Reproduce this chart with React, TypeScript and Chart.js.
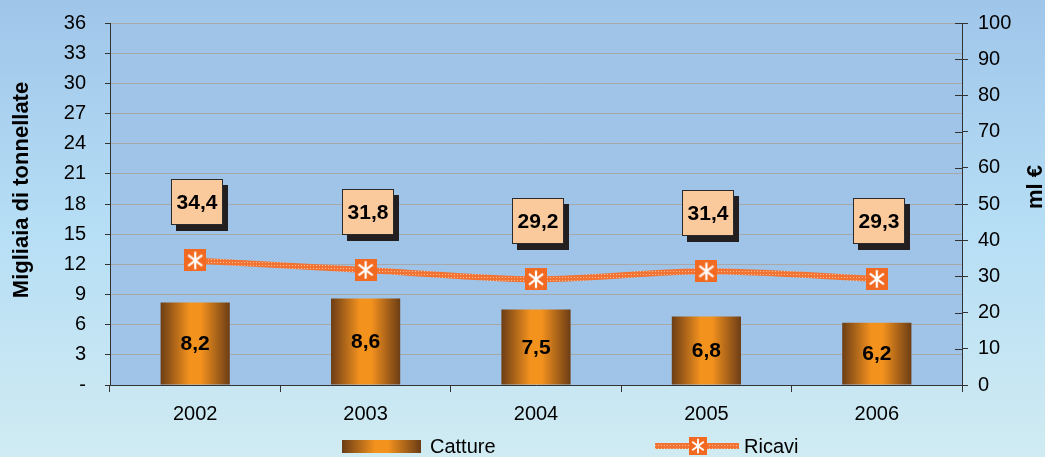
import { useEffect, useRef } from 'react';
import { Chart, registerables } from 'chart.js';

Chart.register(...registerables);

const categories = ['2002', '2003', '2004', '2005', '2006'];
const catture = [8.2, 8.6, 7.5, 6.8, 6.2];
const ricavi = [34.4, 31.8, 29.2, 31.4, 29.3];
const leftMax = 36;
const leftStep = 3;
const rightMax = 100;
const rightStep = 10;
const leftTitle = 'Migliaia di tonnellate';
const rightTitle = 'ml €';
const legendLabels = ['Catture', 'Ricavi'];

const FONT = '"Liberation Sans", Arial, sans-serif';
const ORANGE = '#f26a21';

const fmt = (v: number) => v.toFixed(1).replace('.', ',');

function drawMarker(ctx: CanvasRenderingContext2D, x: number, y: number, s: number) {
  ctx.save();
  ctx.fillStyle = ORANGE;
  ctx.fillRect(x - s / 2, y - s / 2, s, s);
  ctx.strokeStyle = '#ffffff';
  ctx.lineWidth = Math.max(1.5, s / 10);
  ctx.lineCap = 'butt';
  const r = s * 0.4;
  ctx.beginPath();
  ctx.moveTo(x, y - r);
  ctx.lineTo(x, y + r);
  const a = Math.PI / 3.4;
  ctx.moveTo(x - r * Math.sin(a), y - r * Math.cos(a));
  ctx.lineTo(x + r * Math.sin(a), y + r * Math.cos(a));
  ctx.moveTo(x + r * Math.sin(a), y - r * Math.cos(a));
  ctx.lineTo(x - r * Math.sin(a), y + r * Math.cos(a));
  ctx.stroke();
  ctx.restore();
}

function barGradient(ctx: CanvasRenderingContext2D, x0: number, x1: number) {
  const g = ctx.createLinearGradient(x0, 0, x1, 0);
  g.addColorStop(0, '#6a3c15');
  g.addColorStop(0.42, '#f4921e');
  g.addColorStop(0.58, '#f4921e');
  g.addColorStop(1, '#6a3c15');
  return g;
}

export default function App() {
  const ref = useRef<HTMLCanvasElement>(null);

  useEffect(() => {
    document.body.style.margin = '0';
    const canvas = ref.current!;
    const ctx = canvas.getContext('2d')!;

    const markerCanvas = document.createElement('canvas');
    markerCanvas.width = 22;
    markerCanvas.height = 22;
    drawMarker(markerCanvas.getContext('2d')!, 11, 11, 22);

    const patCanvas = document.createElement('canvas');
    patCanvas.width = 3;
    patCanvas.height = 3;
    const pc = patCanvas.getContext('2d')!;
    pc.fillStyle = '#f37332';
    pc.fillRect(0, 0, 3, 3);
    pc.fillStyle = '#fbbd98';
    pc.fillRect(1, 1, 1, 1);
    const linePattern = ctx.createPattern(patCanvas, 'repeat')!;

    const decorPlugin = {
      id: 'decor',
      beforeDraw(chart: any) {
        const c = chart.ctx as CanvasRenderingContext2D;
        const { width, height, chartArea: a } = chart;
        c.save();
        const g = c.createLinearGradient(0, 0, 0, height);
        g.addColorStop(0, '#9fc5e9');
        g.addColorStop(0.5, '#b6def5');
        g.addColorStop(1, '#d0ebf2');
        c.fillStyle = g;
        c.fillRect(0, 0, width, height);
        c.fillStyle = '#9fc4e8';
        c.fillRect(a.left, a.top, a.right - a.left, a.bottom - a.top);
        c.restore();
      },
      afterDatasetsDraw(chart: any) {
        const c = chart.ctx as CanvasRenderingContext2D;
        c.save();
        c.font = `bold 21px ${FONT}`;
        c.textAlign = 'center';
        c.textBaseline = 'middle';
        c.fillStyle = '#000';
        const barMeta = chart.getDatasetMeta(0);
        barMeta.data.forEach((el: any, i: number) => {
          const p = el.getProps(['x', 'y', 'base'], true);
          c.fillText(fmt(catture[i]), p.x, (p.y + p.base) / 2 + 1);
        });
        const lineMeta = chart.getDatasetMeta(1);
        lineMeta.data.forEach((el: any, i: number) => {
          const p = el.getProps(['x', 'y'], true);
          const w = 52;
          const h = 46;
          const bx = Math.round(p.x - w / 2 + 2);
          const by = Math.round(p.y - 58 - h / 2);
          c.fillStyle = '#231f20';
          c.fillRect(bx + 5, by + 6, w, h);
          c.fillStyle = '#fbca9c';
          c.fillRect(bx, by, w, h);
          c.strokeStyle = '#2a2a2a';
          c.lineWidth = 1;
          c.strokeRect(bx + 0.5, by + 0.5, w - 1, h - 1);
          c.fillStyle = '#000';
          c.fillText(fmt(ricavi[i]), bx + w / 2, by + h / 2 + 1);
        });
        c.restore();
      },
      afterDraw(chart: any) {
        const c = chart.ctx as CanvasRenderingContext2D;
        const a = chart.chartArea;
        c.save();
        const y1 = chart.scales.y1;
        c.strokeStyle = '#333';
        c.lineWidth = 1;
        c.beginPath();
        y1.ticks.forEach((t: any) => {
          const yy = Math.round(y1.getPixelForValue(t.value)) + 0.5;
          c.moveTo(a.right - 7, yy);
          c.lineTo(a.right, yy);
        });
        c.stroke();

        c.fillStyle = '#000';
        c.font = `bold 22px ${FONT}`;
        c.textAlign = 'center';
        c.textBaseline = 'middle';
        c.save();
        c.translate(22, 190);
        c.rotate(-Math.PI / 2);
        c.fillText(leftTitle, 0, 0);
        c.restore();
        c.save();
        c.translate(1036, 187);
        c.rotate(-Math.PI / 2);
        c.fillText(rightTitle, 0, 0);
        c.restore();

        const ly = 446;
        c.fillStyle = barGradient(c, 342, 421);
        c.fillRect(342, 440, 79, 13);
        c.strokeStyle = linePattern;
        c.lineWidth = 6;
        c.beginPath();
        c.moveTo(655, ly);
        c.lineTo(739, ly);
        c.stroke();
        drawMarker(c, 698, ly, 18);
        c.fillStyle = '#000';
        c.font = `20px ${FONT}`;
        c.textAlign = 'left';
        c.fillText(legendLabels[0], 430, ly + 1);
        c.fillText(legendLabels[1], 744, ly + 1);
        c.restore();
      },
    };

    const tickFont = { family: FONT, size: 20 };

    const chart = new Chart(canvas, {
      type: 'bar',
      data: {
        labels: categories,
        datasets: [
          {
            type: 'bar',
            label: legendLabels[0],
            data: catture,
            yAxisID: 'y',
            order: 1,
            barPercentage: 0.406,
            categoryPercentage: 1,
            borderWidth: 0,
            backgroundColor: (c: any) => {
              const xs = c.chart.scales?.x;
              if (!xs || c.dataIndex === undefined) return '#f4921e';
              const cx = xs.getPixelForValue(c.dataIndex);
              if (!Number.isFinite(cx)) return '#f4921e';
              return barGradient(c.chart.ctx, cx - 35, cx + 35);
            },
          } as any,
          {
            type: 'line',
            label: legendLabels[1],
            data: ricavi,
            yAxisID: 'y1',
            order: 0,
            borderColor: linePattern,
            borderWidth: 6,
            tension: 0.3,
            pointStyle: markerCanvas,
            pointRadius: 11,
            pointHoverRadius: 11,
          } as any,
        ],
      },
      options: {
        responsive: false,
        animation: false,
        devicePixelRatio: 1,
        layout: { padding: { top: 23, left: 0, right: 0, bottom: 0 } },
        plugins: {
          legend: { display: false },
          tooltip: { enabled: false },
        },
        scales: {
          x: {
            offset: true,
            grid: {
              display: true,
              drawOnChartArea: false,
              drawTicks: true,
              tickLength: 7,
              tickColor: '#333',
              offset: true,
            },
            border: { display: true, color: '#333', width: 1 },
            ticks: { color: '#000', font: tickFont, padding: 10, maxRotation: 0 },
            afterFit: (s: any) => {
              s.height = 72;
              s.paddingLeft = 0;
              s.paddingRight = 0;
            },
          },
          y: {
            position: 'left',
            min: 0,
            max: leftMax,
            ticks: {
              stepSize: leftStep,
              color: '#000',
              font: tickFont,
              padding: 19,
              callback: (v: any) => (Number(v) === 0 ? '-' : String(v)),
            },
            grid: { color: '#a8a8a8', tickColor: '#333', tickLength: 5, lineWidth: 1 },
            border: { display: true, color: '#333', width: 1 },
            afterFit: (s: any) => {
              s.width = 110;
              s.paddingTop = 0;
              s.paddingBottom = 0;
            },
          },
          y1: {
            position: 'right',
            min: 0,
            max: rightMax,
            ticks: { stepSize: rightStep, color: '#000', font: tickFont, padding: 10 },
            grid: { drawOnChartArea: false, tickColor: '#333', tickLength: 6 },
            border: { display: true, color: '#333', width: 1 },
            afterFit: (s: any) => {
              s.width = 83;
              s.paddingTop = 0;
              s.paddingBottom = 0;
            },
          },
        },
      },
      plugins: [decorPlugin],
    });

    return () => chart.destroy();
  }, []);

  return (
    <div style={{ position: 'absolute', left: 0, top: 0, width: 1045, height: 457 }}>
      <canvas ref={ref} width={1045} height={457} style={{ display: 'block', width: 1045, height: 457 }} />
    </div>
  );
}
